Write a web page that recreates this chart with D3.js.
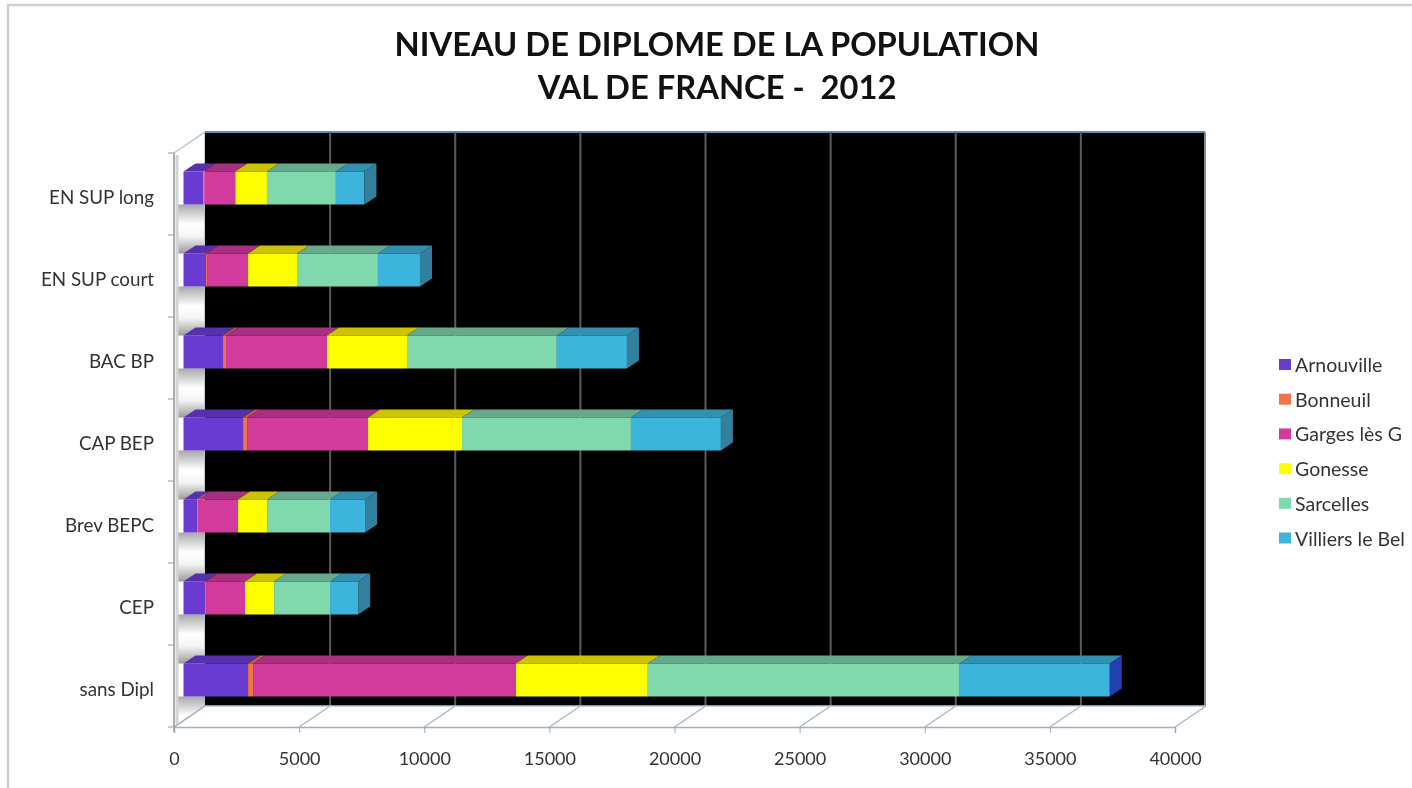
<!DOCTYPE html>
<html><head><meta charset="utf-8">
<script src="https://cdn.jsdelivr.net/npm/d3@7"></script>
<style>html,body{margin:0;padding:0;background:#fff}svg{display:block;filter:blur(0.5px)}</style>
</head><body><svg id="c" width="1412" height="788"></svg>
<script>
const categories = ["EN SUP long","EN SUP court","BAC BP","CAP BEP","Brev BEPC","CEP","sans Dipl"];
const seriesNames = ["Arnouville","Bonneuil","Garges lès G","Gonesse","Sarcelles","Villiers le Bel"];
const arnouville = [800,900,1580,2380,540,860,2580];
const bonneuil   = [30,40,120,160,40,40,200];
const garges     = [1240,1640,4035,4835,1600,1560,10500];
const gonesse    = [1265,1955,3195,3755,1160,1160,5275];
const sarcelles  = [2755,3235,5990,6750,2515,2240,12465];
const villiers   = [1140,1680,2800,3595,1400,1120,5995];
const seriesValues = [arnouville,bonneuil,garges,gonesse,sarcelles,villiers];
const colors = ["#6a3bd0","#f0744a","#d23a9c","#ffff00","#80d8ad","#3cb4dc"];
const topColors = ["#5730ab","#c8613e","#a83080","#ccc400","#66a98c","#3390b0"];
const xTicks = [0,5000,10000,15000,20000,25000,30000,35000,40000];

const svg = d3.select("#c");
const defs = svg.append("defs");
const wallGrad = defs.append("linearGradient").attr("id","wall").attr("x1",0).attr("x2",0).attr("y1",0).attr("y2",1);
[[0,"#a8a8a8"],[.4,"#ffffff"],[.65,"#f4f4f4"],[1,"#9a9a9a"]].forEach(d=>wallGrad.append("stop").attr("offset",d[0]).attr("stop-color",d[1]));
defs.append("clipPath").attr("id","wallClip").append("path").attr("d","M176,153L205,132V706L176,727Z");

// outer frame
svg.append("path").attr("d","M8,788V5H1412").attr("fill","none").attr("stroke","#d0d0d0").attr("stroke-width",2.5);

// title
svg.append("g").selectAll("text").data(["NIVEAU DE DIPLOME DE LA POPULATION","VAL DE FRANCE -  2012"]).join("text")
  .attr("x",717).attr("y",(d,i)=>56+i*43).attr("text-anchor","middle").attr("xml:space","preserve")
  .style("font","bold 32.7px Lato, 'Open Sans', sans-serif").attr("fill","#111").text(d=>d);

const xFront = d3.scaleLinear().domain([0,40000]).range([174,1175]);
const depth = {dx:31,dy:-21};
const floorY = 727, backTop = 132;
const xBack = v => xFront(v)+depth.dx;
const backBottom = floorY+depth.dy;
const xBar = d3.scaleLinear().domain([0,40000]).range([183.5,1184.5]);
const yBand = d3.scaleBand().domain(categories).range([153,727]);
const barH = 33, barDx = 12, barDy = 8;
const bandH = yBand.bandwidth();
const barTop = c => yBand(c)+(bandH-barH)/2-6;

// side wall
const wallG = svg.append("g").attr("clip-path","url(#wallClip)");
wallG.append("rect").attr("x",174).attr("y",132).attr("width",31).attr("height",595).attr("fill","#fff");
wallG.selectAll("rect.s").data(categories).join("rect").attr("class","s")
  .attr("x",174).attr("width",31)
  .attr("y",d=>barTop(d)+barH).attr("height",bandH-barH).attr("fill","url(#wall)");
svg.append("path").attr("d",`M174,${153}L205,${backTop}V${backBottom}L174,${floorY}Z`).attr("fill","none").attr("stroke","#b9c3cc").attr("stroke-width",1.5);
svg.append("path").attr("d",`M177,155V724`).attr("stroke","#d4d4d4").attr("stroke-width",3).attr("fill","none");

// back wall
svg.append("rect").attr("x",205).attr("y",backTop).attr("width",1000).attr("height",backBottom-backTop).attr("fill","#000");
svg.append("path").attr("d",`M205,${backTop}H1205`).attr("stroke","#5b8fc0").attr("stroke-width",2).attr("fill","none");
svg.append("path").attr("d",`M1205,${backTop}V${backBottom}`).attr("stroke","#8a8a8a").attr("stroke-width",2).attr("fill","none");

// gridlines
svg.append("g").selectAll("path").data(xTicks.slice(1,-1)).join("path")
  .attr("d",d=>`M${xBack(d)},${backTop}V${backBottom}`).attr("stroke","#5c5c5c").attr("stroke-width",2);
svg.append("g").selectAll("path").data(xTicks).join("path")
  .attr("d",d=>`M${xFront(d)},${floorY}L${xBack(d)},${backBottom}`).attr("stroke","#a9b3bf").attr("stroke-width",1.3).attr("fill","none");
svg.append("path").attr("d",`M205,${backBottom}H1205`).attr("stroke","#b4c6da").attr("stroke-width",1.5);

// axes
const xAxis = svg.append("g").attr("transform",`translate(0,${floorY})`)
  .call(d3.axisBottom(xFront).tickValues(xTicks).tickFormat(d3.format("d")).tickSize(6).tickPadding(19));
xAxis.select(".domain").attr("stroke","#9fb0c2").attr("stroke-width",1.5);
xAxis.selectAll("line").attr("stroke","#9fa8b2");
xAxis.selectAll("text").style("font","18px Lato, sans-serif").attr("fill","#333");

const yAxis = svg.append("g").attr("transform","translate(174,0)")
  .call(d3.axisLeft(yBand).tickSize(0).tickPadding(20));
yAxis.select(".domain").remove();
yAxis.selectAll("text").attr("y",3.5).style("font","18.8px Lato, sans-serif").attr("fill","#333");
svg.append("g").selectAll("path").data(d3.range(categories.length+1)).join("path")
  .attr("d",i=>`M168,${153+i*bandH}H174`).attr("stroke","#9fa8b2").attr("stroke-width",1.2);
svg.append("path").attr("d",`M174,153V${floorY+5}`).attr("stroke","#a0a0a0").attr("stroke-width",1.5);

// bars
const stacked = d3.stack().keys(d3.range(seriesNames.length)).value((row,k)=>row[k])(categories.map((c,i)=>seriesValues.map(s=>s[i])));
stacked.forEach((layer,s)=>{
  const g = svg.append("g");
  layer.forEach((d,i)=>{
    const x0=xBar(d[0]),x1=xBar(d[1]),y=barTop(categories[i]);
    g.append("path").attr("d",`M${x0},${y}L${x0+barDx},${y-barDy}H${x1+barDx}L${x1},${y}Z`).attr("fill",topColors[s]);
    g.append("rect").attr("x",x0).attr("y",y).attr("width",x1-x0).attr("height",barH).attr("fill",colors[s]);
    if(s===seriesNames.length-1)
      g.append("path").attr("d",`M${x1},${y}L${x1+barDx},${y-barDy}V${y+barH-barDy}L${x1},${y+barH}Z`)
        .attr("fill",categories[i]==="sans Dipl"?"#2340b0":"#33809e");
  });
});

// legend
const leg = svg.append("g").selectAll("g").data(seriesNames).join("g")
  .attr("transform",(d,i)=>`translate(1279,${359+i*34.7})`);
leg.append("rect").attr("width",12).attr("height",11).attr("fill",(d,i)=>colors[i]);
leg.append("text").attr("x",16).attr("y",13).style("font","19.5px Lato, sans-serif").attr("fill","#333").text(d=>d);
</script></body></html>
